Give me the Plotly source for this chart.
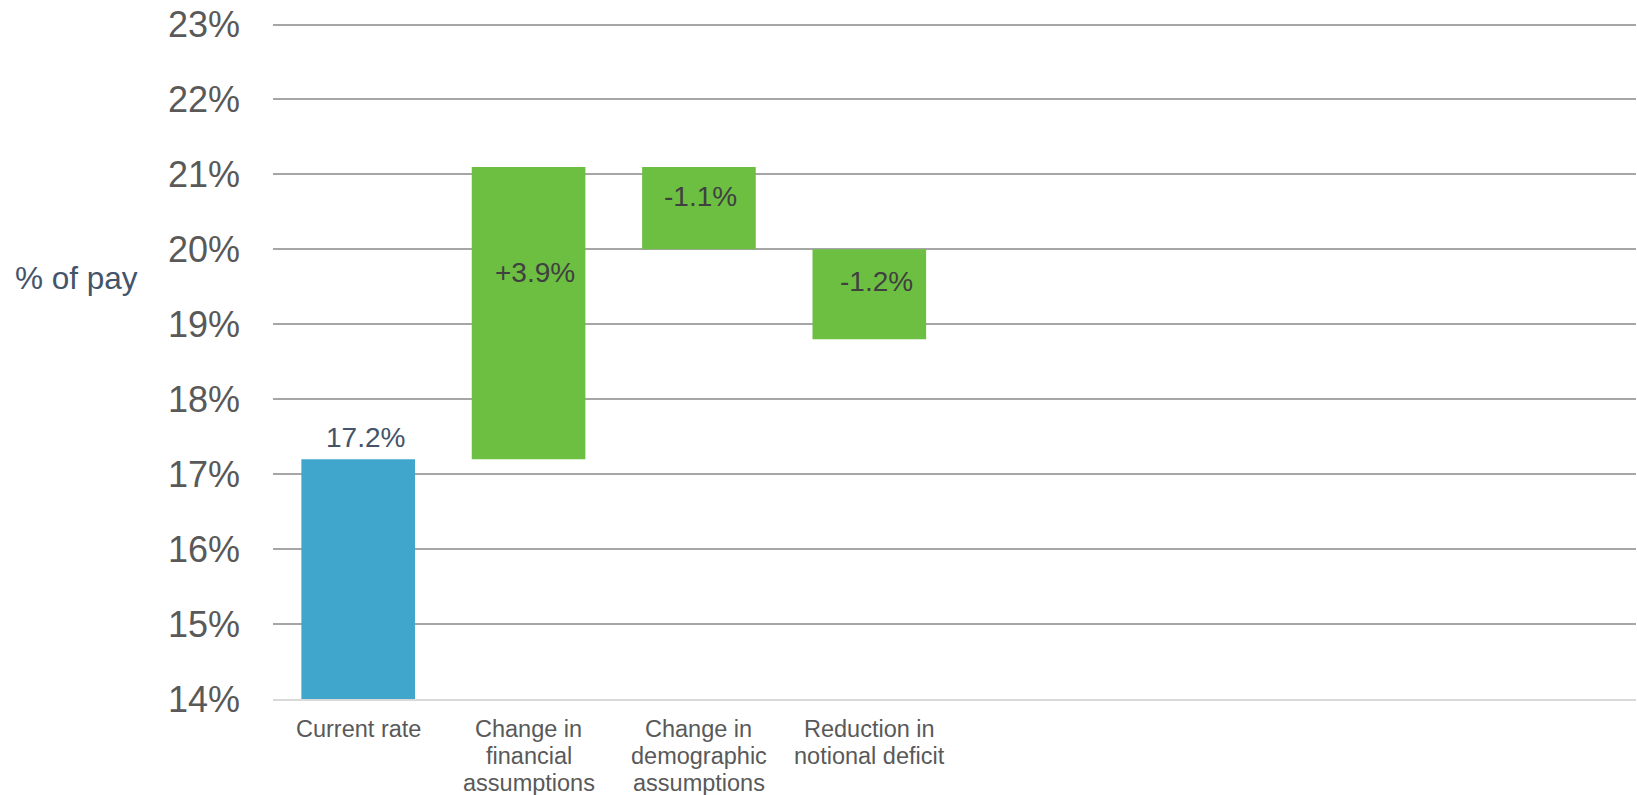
import plotly.graph_objects as go

# ---- data ----
categories = ["Current rate",
              "Change in<br>financial<br>assumptions",
              "Change in<br>demographic<br>assumptions",
              "Reduction in<br>notional deficit"]
current_rate = 17.2
changes = [3.9, -1.1, -1.2]
change_labels = ["+3.9%", "-1.1%", "-1.2%"]
start_label = "17.2%"
y_ticks = list(range(14, 24))
y_tick_text = [f"{v}%" for v in y_ticks]

# ---- derived waterfall geometry ----
bases = []
heights = []
level = current_rate
for c in changes:
    new_level = level + c
    bases.append(min(level, new_level))
    heights.append(abs(c))
    level = new_level

x_pos = list(range(len(categories)))
FONT = "Arial, Liberation Sans, sans-serif"
BLUE = "#40A6CC"
GREEN = "#6DBF42"
GRID = "#A6A6A6"
y_min, y_max = y_ticks[0], y_ticks[-1]

fig = go.Figure()
fig.add_trace(go.Bar(x=[x_pos[0]], y=[current_rate], base=[0], width=0.667,
                     marker=dict(color=BLUE, line=dict(width=0)),
                     hoverinfo="skip", showlegend=False))
fig.add_trace(go.Bar(x=x_pos[1:], y=heights, base=bases, width=0.667,
                     marker=dict(color=GREEN, line=dict(width=0)),
                     hoverinfo="skip", showlegend=False))

annotations = []
annotations.append(dict(x=x_pos[0], y=current_rate, xref="x", yref="y",
                        text=start_label, showarrow=False, yanchor="bottom",
                        xshift=7, yshift=4,
                        font=dict(family=FONT, size=28, color="#44546A")))
label_frac = 0.64
label_xshift = [6, 2, 7]
for i, (b, h, t) in enumerate(zip(bases, heights, change_labels)):
    annotations.append(dict(x=x_pos[i + 1], y=b + h * label_frac, xref="x", yref="y",
                            text=t, showarrow=False, yanchor="middle",
                            xshift=label_xshift[i],
                            font=dict(family=FONT, size=28, color="#404040")))
annotations.append(dict(x=-0.1906, y=0.623, xref="paper", yref="paper",
                        text="% of pay", showarrow=False, xanchor="left",
                        yanchor="middle",
                        font=dict(family=FONT, size=31.5, color="#44546A")))

# category labels, one text line each (tighter line spacing than tick labels allow)
line_gap = 27
for xi, cat in zip(x_pos, categories):
    for k, line in enumerate(cat.split("<br>")):
        annotations.append(dict(x=xi, y=0, xref="x", yref="paper",
                                text=line, showarrow=False, yanchor="middle",
                                xanchor="center", yshift=-(30 + k * line_gap),
                                font=dict(family=FONT, size=23.5, color="#595959")))

fig.update_layout(
    width=1637, height=795,
    margin=dict(l=273, r=1, t=22.5, b=96, autoexpand=False),
    paper_bgcolor="white", plot_bgcolor="white",
    barmode="overlay",
    annotations=annotations,
    font=dict(family=FONT),
)
fig.update_xaxes(range=[-0.5, 7.5], tickmode="array", tickvals=x_pos,
                 showticklabels=False, showgrid=False, zeroline=False,
                 showline=True, linecolor="#D9D9D9", linewidth=1.5,
                 ticks="", automargin=False)
fig.update_yaxes(range=[y_min, y_max + 0.02], tickmode="array", tickvals=y_ticks,
                 ticktext=y_tick_text, showgrid=True, gridcolor=GRID,
                 gridwidth=1.5, zeroline=False, showline=False, ticks="",
                 ticklabelstandoff=32, automargin=False,
                 tickfont=dict(family=FONT, size=36, color="#595959"))

fig.write_html("out.html")
